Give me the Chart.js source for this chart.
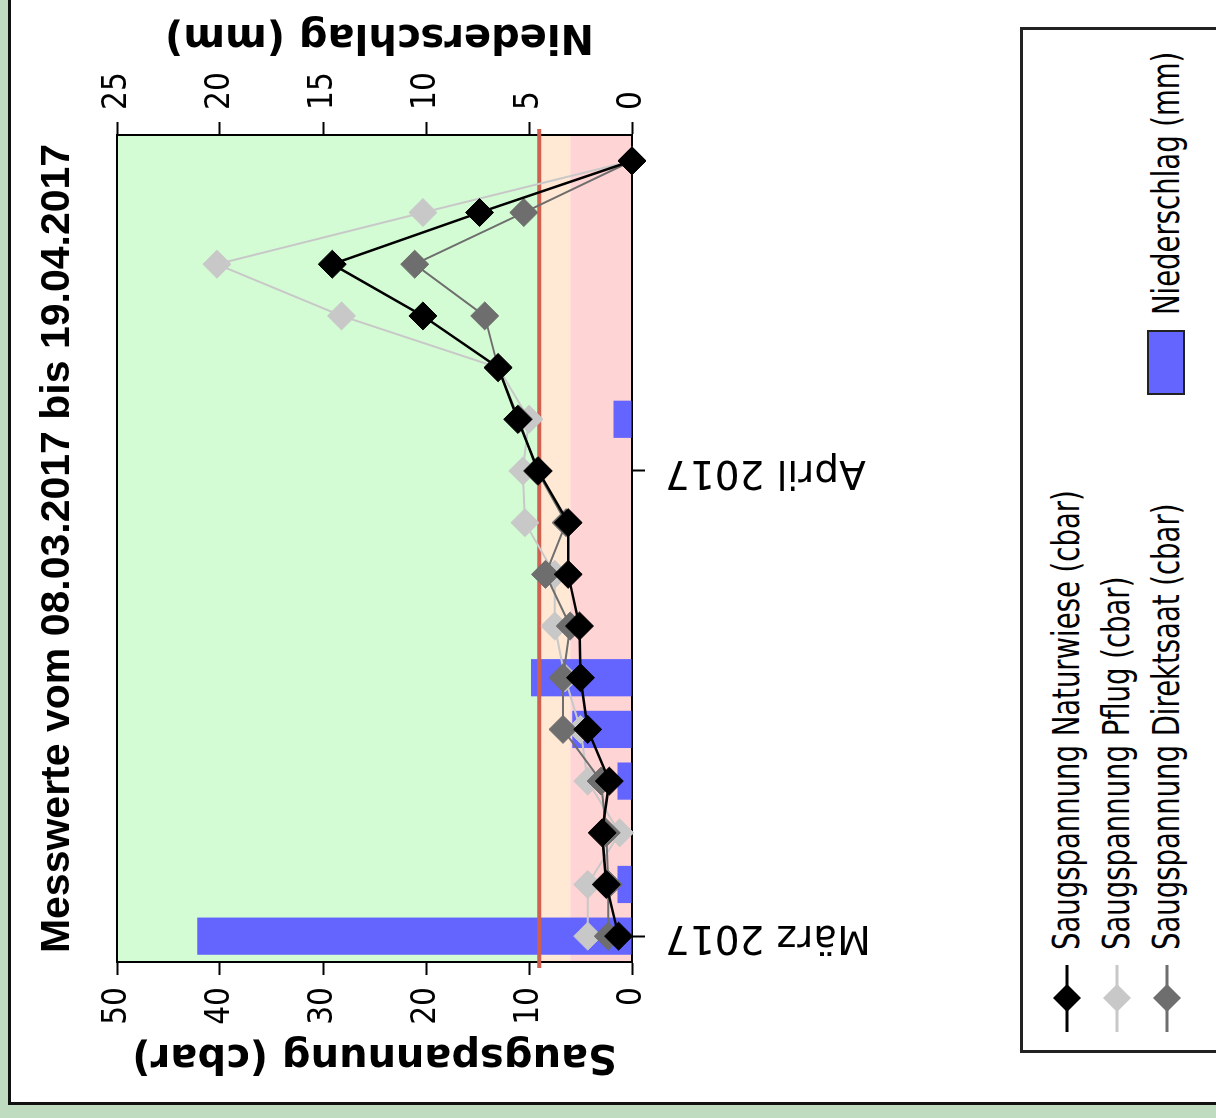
<!DOCTYPE html>
<html><head><meta charset="utf-8">
<script src="https://cdn.jsdelivr.net/npm/chart.js@4.4.1/dist/chart.umd.min.js"></script>
<style>
html,body{margin:0;padding:0}
body{width:1216px;height:1118px;background:#c0dcc0;position:relative;overflow:hidden}
#panel{position:absolute;left:8px;top:-10px;width:1230px;height:1115px;background:#fff;border:3px solid #111;box-sizing:border-box}
#rot{position:absolute;left:0;top:0;width:1118px;height:1216px;transform-origin:0 0;transform:translate(0,1118px) rotate(-90deg)}
#c{position:absolute;left:0;top:0}
#legend{position:absolute;left:65px;top:1020px;width:1026px;height:300px;border:3px solid #222;box-sizing:border-box;background:#fff}
.mk{position:absolute}
.tx{position:absolute;font-family:"DejaVu Sans Condensed","DejaVu Sans",sans-serif;font-size:37px;line-height:40px;white-space:nowrap;color:#000;transform-origin:0 50%}
#nbox{position:absolute;left:655px;top:124px;width:65px;height:38px;background:#6464ff;border:2px solid #222;box-sizing:border-box}
</style>
</head><body>
<div id="panel"></div>
<div id="rot">
<canvas id="c" width="1118" height="900"></canvas>
<div id="legend">
  <svg class="mk" style="left:18px;top:29px" width="67" height="30"><line x1="0" y1="15" x2="67" y2="15" stroke="#000" stroke-width="3"/><polygon points="34,1 48,15 34,29 20,15" fill="#000"/></svg>
  <span class="tx" style="left:100px;top:24px">Saugspannung Naturwiese (cbar)</span>
  <svg class="mk" style="left:18px;top:79px" width="67" height="30"><line x1="0" y1="15" x2="67" y2="15" stroke="#c8c8c8" stroke-width="3"/><polygon points="34,1 48,15 34,29 20,15" fill="#c8c8c8"/></svg>
  <span class="tx" style="left:100px;top:74px">Saugspannung Pflug (cbar)</span>
  <svg class="mk" style="left:18px;top:129px" width="67" height="30"><line x1="0" y1="15" x2="67" y2="15" stroke="#6e6e6e" stroke-width="3"/><polygon points="34,1 48,15 34,29 20,15" fill="#6e6e6e"/></svg>
  <span class="tx" style="left:100px;top:124px">Saugspannung Direktsaat (cbar)</span>
  <div id="nbox"></div>
  <span class="tx" style="left:735px;top:124px">Niederschlag (mm)</span>
</div>
</div>
<script>
// ---- data ----
const dates = ['08.03.2017','10.03.2017','13.03.2017','15.03.2017','17.03.2017','20.03.2017','22.03.2017','24.03.2017','28.03.2017',
               '03.04.2017','05.04.2017','07.04.2017','10.04.2017','12.04.2017','15.04.2017','19.04.2017'];
const monthLabels = ['März 2017','','','','','','','','','April 2017','','','','','',''];
const naturwiese  = [1.3, 2.5, 2.9, 2.2, 4.3, 5.0, 5.1, 6.2, 6.2, 9.1, 11.1, 13.0, 20.3, 29.1, 14.8, 0];
const pflug       = [4.3, 4.3, 1.2, 4.3, 5.0, 6.5, 7.5, 7.5, 10.4, 10.6, 10.0, 13.0, 28.2, 40.3, 20.3, 0];
const direktsaat  = [2.3, 2.3, 2.5, 3.0, 6.7, 6.7, 6.0, 8.4, 6.4, 9.2, 11.0, 13.0, 14.3, 21.1, 10.5, 0];
const niederschlag= [21.1, 0.7, 0, 0.7, 2.9, 4.9, 0, 0, 0, 0, 0.9, 0, 0, 0, 0, 0];
const saugTicks = [0, 10, 20, 30, 40, 50];
const niedTicks = [0, 5, 10, 15, 20, 25];
const bands = [
  {from: 0, to: 6, color: '#ffd4d4'},
  {from: 6, to: 9, color: '#ffe8d4'},
  {from: 9, to: 50, color: '#d4fcd4'}
];
const limitLine = 9;

// legend text: compress horizontally to the reference's narrow lettering
(function () {
  const spans = document.querySelectorAll('.tx');
  const s = 460 / spans[0].offsetWidth;
  spans.forEach(el => { el.style.transform = 'scaleX(' + s + ')'; });
})();

const narrow = '"Liberation Sans Narrow","Arial Narrow","DejaVu Sans Condensed","Liberation Sans",sans-serif';
const axisTitleFont = {family: '"DejaVu Sans",sans-serif', size: 40, weight: 'bold', lineHeight: 1};

const deco = {
  id: 'deco',
  beforeDraw(chart) {
    const {ctx, chartArea: a, scales: {y}} = chart;
    ctx.save();
    bands.forEach(b => {
      const p1 = y.getPixelForValue(b.from), p2 = y.getPixelForValue(b.to);
      ctx.fillStyle = b.color;
      ctx.fillRect(a.left, Math.min(p1, p2), a.right - a.left, Math.abs(p2 - p1));
    });
    ctx.restore();
  },
  afterDatasetDraw(chart, args) {
    if (args.index !== 3) return;
    const {ctx, chartArea: a, scales: {y}} = chart;
    const py = y.getPixelForValue(limitLine);
    ctx.save();
    ctx.strokeStyle = '#d0604f';
    ctx.lineWidth = 4;
    ctx.beginPath();
    ctx.moveTo(a.left - 6, py);
    ctx.lineTo(a.right + 6, py);
    ctx.stroke();
    ctx.restore();
  },
  afterDraw(chart) {
    const {ctx, chartArea: a} = chart;
    ctx.save();
    ctx.strokeStyle = '#000';
    ctx.lineWidth = 2;
    ctx.beginPath();
    ctx.moveTo(a.left - 1, a.top);
    ctx.lineTo(a.right + 1, a.top);
    ctx.stroke();
    // right axis title, reading bottom to top
    ctx.translate(1083, (a.top + a.bottom) / 2 + 5);
    ctx.rotate(-Math.PI / 2);
    ctx.font = 'bold 40px "DejaVu Sans",sans-serif';
    ctx.fillStyle = '#000';
    ctx.textAlign = 'center';
    ctx.textBaseline = 'middle';
    ctx.fillText('Niederschlag (mm)', 0, 0);
    ctx.restore();
  }
};

const lineDs = (label, data, color, width, order) => ({
  type: 'line', label, data, yAxisID: 'y', order,
  borderColor: color, borderWidth: width, tension: 0,
  pointStyle: 'rectRot', pointRadius: 14, pointHoverRadius: 14,
  pointBackgroundColor: color, pointBorderColor: color, pointBorderWidth: 1,
  clip: false
});

new Chart(document.getElementById('c'), {
  type: 'bar',
  data: {
    labels: dates,
    datasets: [
      lineDs('Saugspannung Naturwiese (cbar)', naturwiese, '#000000', 2.5, 1),
      lineDs('Saugspannung Pflug (cbar)', pflug, '#c8c8c8', 2, 3),
      lineDs('Saugspannung Direktsaat (cbar)', direktsaat, '#6e6e6e', 2, 2),
      {type: 'bar', label: 'Niederschlag (mm)', data: niederschlag, yAxisID: 'y2', order: 4,
       backgroundColor: '#6464ff', borderWidth: 0, categoryPercentage: 0.8, barPercentage: 0.9}
    ]
  },
  options: {
    responsive: false, animation: false, devicePixelRatio: 1,
    layout: {padding: 0},
    plugins: {
      legend: {display: false},
      tooltip: {enabled: false},
      title: {display: true, fullSize: false, text: 'Messwerte vom 08.03.2017 bis 19.04.2017', color: '#000',
              font: {family: '"Liberation Sans",sans-serif', size: 41, weight: 'bold', lineHeight: 1},
              padding: {top: 37.5, bottom: 38.5}}
    },
    scales: {
      x: {
        type: 'category', offset: true,
        grid: {offset: false, drawOnChartArea: false, drawTicks: true, tickLength: 13, tickWidth: 2,
               tickColor: c => monthLabels[c.index] ? '#000' : 'rgba(0,0,0,0)'},
        border: {display: true, color: '#000', width: 2},
        ticks: {autoSkip: false, minRotation: 90, maxRotation: 90, padding: 20, color: '#000',
                font: {family: '"DejaVu Sans",sans-serif', size: 39},
                callback: (v, i) => monthLabels[i]},
        afterFit: s => { s.height = 268; }
      },
      y: {
        position: 'left', min: 0, max: 50,
        afterBuildTicks: s => { s.ticks = saugTicks.map(v => ({value: v})); },
        grid: {drawOnChartArea: false, drawTicks: true, tickLength: 13, tickWidth: 2, tickColor: '#000'},
        border: {display: true, color: '#000', width: 2},
        ticks: {padding: 12, color: '#000', font: {family: narrow, size: 33}},
        title: {display: true, text: 'Saugspannung (cbar)', color: '#000', font: axisTitleFont, padding: {top: 43, bottom: 0}},
        afterFit: s => { s.width = 156; }
      },
      y2: {
        position: 'right', min: 0, max: 25,
        afterBuildTicks: s => { s.ticks = niedTicks.map(v => ({value: v})); },
        grid: {drawOnChartArea: false, drawTicks: true, tickLength: 13, tickWidth: 2, tickColor: '#000'},
        border: {display: true, color: '#000', width: 2},
        ticks: {padding: 12, color: '#000', font: {family: narrow, size: 33}},
        afterFit: s => { s.width = 135; }
      }
    }
  },
  plugins: [deco]
});
</script>
</body></html>
